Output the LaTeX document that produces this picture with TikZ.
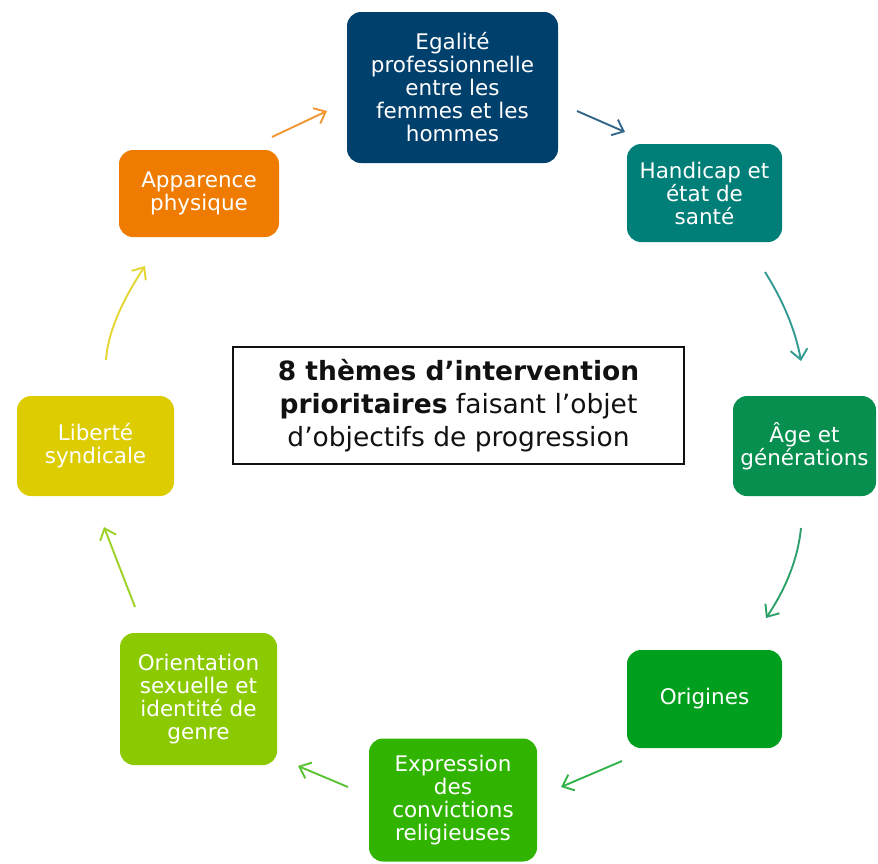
\documentclass[tikz,border=0pt]{standalone}
\usepackage{fontspec}
\setmainfont{DejaVu Sans}
\usetikzlibrary{arrows.meta}
\definecolor{cnavy}{HTML}{00406C}
\definecolor{cteal}{HTML}{007F78}
\definecolor{cage}{HTML}{078F4F}
\definecolor{corig}{HTML}{00A01E}
\definecolor{cexpr}{HTML}{30B400}
\definecolor{corient}{HTML}{8BC900}
\definecolor{clib}{HTML}{DDCC00}
\definecolor{capp}{HTML}{EF7C00}
\definecolor{ctext}{HTML}{111111}
\tikzset{
  theme/.style={rounded corners=14pt, inner sep=0pt, align=center, text=white,
    font=\fontsize{21.5}{23}\selectfont},
  link/.style={line width=1.9pt, -{Straight Barb[length=10pt,width=17pt]}},
}
\begin{document}
\begin{tikzpicture}[x=1pt,y=-1pt]
\useasboundingbox (0,0) rectangle (878,863);
% theme boxes
\node[theme, fill=cnavy, minimum width=211pt, minimum height=151pt] (ega) at (452.5,87.5)
  {Egalité\\professionnelle\\entre les\\femmes et les\\hommes};
\node[theme, fill=cteal, minimum width=155pt, minimum height=98pt] (hand) at (704.5,193)
  {Handicap et\\état de\\santé};
\node[theme, fill=cage, minimum width=143pt, minimum height=100pt] (age) at (804.5,446)
  {Âge et\\générations};
\node[theme, fill=corig, minimum width=155pt, minimum height=98pt] (orig) at (704.5,699)
  {Origines};
\node[theme, fill=cexpr, minimum width=168pt, minimum height=123pt] (expr) at (453,800)
  {Expression\\des\\convictions\\religieuses};
\node[theme, fill=corient, minimum width=157pt, minimum height=132pt] (orient) at (198.5,699)
  {Orientation\\sexuelle et\\identité de\\genre};
\node[theme, fill=clib, minimum width=157pt, minimum height=100pt] (lib) at (95.5,446)
  {Liberté\\syndicale};
\node[theme, fill=capp, minimum width=160pt, minimum height=87pt] (app) at (199,193.5)
  {Apparence\\physique};
% central box
\node[draw=ctext, line width=1.6pt, inner sep=0pt, minimum width=451pt, minimum height=117pt,
  align=center, text=ctext, font=\fontsize{26.5}{33}\selectfont] (center) at (458.5,405.5)
  {\textbf{8 thèmes d’intervention}\\\textbf{prioritaires} faisant l’objet\\d’objectifs de progression};
% arrow end points
\coordinate (a1s) at (272,137); \coordinate (a1e) at (327,111);
\coordinate (a2s) at (577,111); \coordinate (a2e) at (625,132);
\coordinate (a3s) at (765,272); \coordinate (a3c) at (783.7,301.7); \coordinate (a3d) at (795.7,331.3); \coordinate (a3e) at (801,361);
\coordinate (a4s) at (801,528); \coordinate (a4c) at (798,558); \coordinate (a4d) at (786.3,588); \coordinate (a4e) at (766,618);
\coordinate (a5s) at (622,761); \coordinate (a5e) at (561,787);
\coordinate (a6s) at (348,787); \coordinate (a6e) at (298,766);
\coordinate (a7s) at (135,607); \coordinate (a7e) at (104,527);
\coordinate (a8s) at (106,360); \coordinate (a8c) at (107.7,334); \coordinate (a8d) at (120.7,302.7); \coordinate (a8e) at (145,266);
% arrows
\draw[link, draw=capp!80] (a1s) -- (a1e);
\draw[link, draw=cnavy!80] (a2s) -- (a2e);
\draw[link, draw=cteal!80] (a3s) .. controls (a3c) and (a3d) .. (a3e);
\draw[link, draw=cage!85] (a4s) .. controls (a4c) and (a4d) .. (a4e);
\draw[link, draw=corig!80] (a5s) -- (a5e);
\draw[link, draw=cexpr!80] (a6s) -- (a6e);
\draw[link, draw=corient!85] (a7s) -- (a7e);
\draw[link, draw=clib!80] (a8s) .. controls (a8c) and (a8d) .. (a8e);
\end{tikzpicture}
\end{document}
